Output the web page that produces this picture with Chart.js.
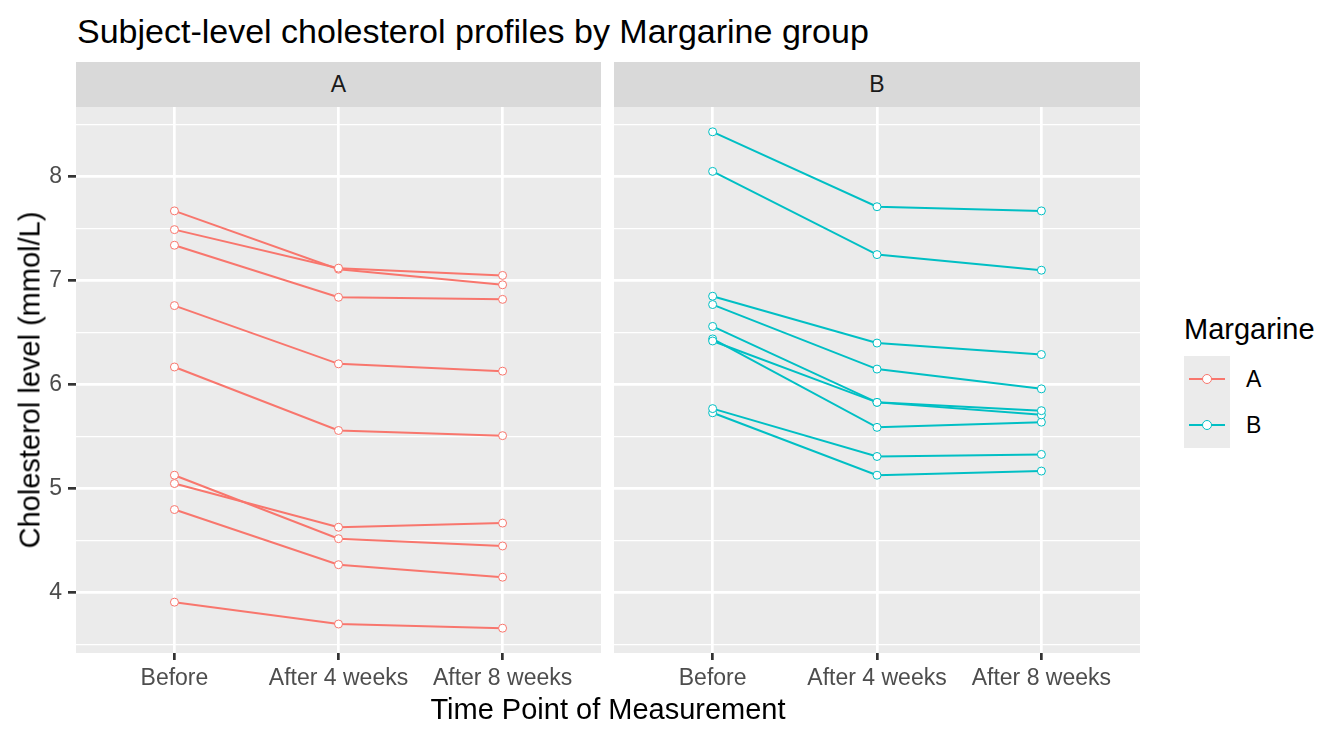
<!DOCTYPE html>
<html>
<head>
<meta charset="utf-8">
<script src="https://cdn.jsdelivr.net/npm/chart.js@4.4.1/dist/chart.umd.min.js"></script>
<style>
  body { margin: 0; background: #fff; font-family: 'Liberation Sans', Arial, sans-serif; }
  #wrap { position: relative; width: 1344px; height: 739px; overflow: hidden; }
  .abs { position: absolute; }
  .strip { background: #D9D9D9; color: #1A1A1A; font-size: 23px; display: flex; align-items: center; justify-content: center; }
  .keybox { background: #EBEBEB; width: 46px; height: 46px; }
  .keyline { position: absolute; left: 5px; right: 5px; top: 22px; height: 2px; }
  .keydot { position: absolute; left: 18px; top: 18px; width: 8px; height: 8px; border-radius: 50%; background: #fff; border: 1px solid; }
</style>
</head>
<body>
<div id="wrap">
  <div class="abs" style="left:77px;top:13px;font-size:34px;line-height:36px;color:#000;white-space:nowrap;">Subject-level cholesterol profiles by Margarine group</div>

  <div class="abs strip" style="left:76px;top:62px;width:525px;height:45px;">A</div>
  <div class="abs strip" style="left:614px;top:62px;width:526px;height:45px;">B</div>

  <canvas id="panelA" class="abs" style="left:0;top:107px;"></canvas>
  <canvas id="panelB" class="abs" style="left:614px;top:107px;"></canvas>

  <div class="abs" style="left:30px;top:380px;transform:translate(-50%,-50%) rotate(-90deg);font-size:29px;white-space:nowrap;color:#000;">Cholesterol level (mmol/L)</div>
  <div class="abs" style="left:608px;top:709px;transform:translate(-50%,-50%);font-size:29px;white-space:nowrap;color:#000;">Time Point of Measurement</div>

  <div class="abs" style="left:1184px;top:313px;font-size:29px;line-height:32px;color:#000;">Margarine</div>
  <div class="abs keybox" style="left:1184px;top:356px;">
    <div class="keyline" style="background:#F8766D;"></div>
    <div class="keydot" style="border-color:#F8766D;"></div>
  </div>
  <div class="abs keybox" style="left:1184px;top:402px;">
    <div class="keyline" style="background:#00BFC4;"></div>
    <div class="keydot" style="border-color:#00BFC4;"></div>
  </div>
  <div class="abs" style="left:1246px;top:366px;font-size:23px;line-height:26px;color:#000;">A</div>
  <div class="abs" style="left:1246px;top:412px;font-size:23px;line-height:26px;color:#000;">B</div>
</div>

<script>
const timePoints = ['Before', 'After 4 weeks', 'After 8 weeks'];

// one entry per subject, same order in each array
const beforeA = [6.76, 4.80, 7.49, 5.05, 3.91, 6.17, 7.67, 7.34, 5.13];
const after4A = [6.20, 4.27, 7.12, 4.63, 3.70, 5.56, 7.11, 6.84, 4.52];
const after8A = [6.13, 4.15, 7.05, 4.67, 3.66, 5.51, 6.96, 6.82, 4.45];

const beforeB = [6.42, 6.56, 8.43, 8.05, 5.77, 6.77, 6.44, 6.85, 5.73];
const after4B = [5.83, 5.83, 7.71, 7.25, 5.31, 6.15, 5.59, 6.40, 5.13];
const after8B = [5.75, 5.71, 7.67, 7.10, 5.33, 5.96, 5.64, 6.29, 5.17];

const yGrid = [3.5, 4, 4.5, 5, 5.5, 6, 6.5, 7, 7.5, 8, 8.5];

const colA = '#F8766D';
const colB = '#00BFC4';
const fontFamily = "'Liberation Sans', Arial, sans-serif";

function subjectSets(before, after4, after8, color) {
    return before.map((b, i) => ({
        data: [{x: 0, y: b}, {x: 1, y: after4[i]}, {x: 2, y: after8[i]}],
        borderColor: color,
        borderWidth: 2,
        pointRadius: 4,
        pointBackgroundColor: '#fff',
        pointBorderColor: color,
        pointBorderWidth: 1,
        tension: 0
    }));
}

const panelBg = {
    id: 'panelBg',
    beforeDraw(chart) {
        const a = chart.chartArea;
        const c = chart.ctx;
        c.save();
        c.fillStyle = '#EBEBEB';
        c.fillRect(a.left, a.top, a.right - a.left, a.bottom - a.top);
        c.restore();
    }
};

const isMajor = (ctx) => ctx.tick && Number.isInteger(ctx.tick.value);

// keep the chart area fixed: no label overflow padding
function noPad(s) {
    s.paddingTop = 0;
    s.paddingBottom = 0;
    s.paddingLeft = 0;
    s.paddingRight = 0;
}

function makePanel(id, width, datasets, showY) {
    const canvas = document.getElementById(id);
    canvas.width = width;
    canvas.height = 632;
    canvas.style.width = width + 'px';
    canvas.style.height = '632px';
    return new Chart(canvas.getContext('2d'), {
        type: 'line',
        data: { datasets },
        options: {
            responsive: false,
            animation: false,
            layout: { padding: 0, autoPadding: false },
            plugins: {
                legend: { display: false },
                tooltip: { enabled: false }
            },
            scales: {
                x: {
                    type: 'linear',
                    min: -0.6,
                    max: 2.6,
                    afterBuildTicks: (axis) => { axis.ticks = timePoints.map((t, i) => ({ value: i })); },
                    afterFit: (s) => { s.height = 86; noPad(s); },
                    border: { display: false },
                    grid: {
                        color: '#fff',
                        lineWidth: 2.7,
                        tickLength: 7,
                        tickColor: '#333333',
                        tickWidth: 2.7
                    },
                    ticks: {
                        color: '#4D4D4D',
                        font: { family: fontFamily, size: 23 },
                        padding: 5,
                        maxRotation: 0,
                        autoSkip: false,
                        callback: (v) => timePoints[v]
                    }
                },
                y: {
                    type: 'linear',
                    min: 3.4215,
                    max: 8.6685,
                    afterBuildTicks: (axis) => { axis.ticks = yGrid.map(v => ({ value: v })); },
                    afterFit: (s) => { s.width = showY ? 76 : 0; noPad(s); },
                    border: { display: false },
                    grid: {
                        color: '#fff',
                        lineWidth: (ctx) => isMajor(ctx) ? 2.7 : 1.3,
                        drawTicks: showY,
                        tickLength: showY ? 8 : 0,
                        tickColor: (ctx) => (showY && isMajor(ctx)) ? '#333333' : 'rgba(0,0,0,0)',
                        tickWidth: 2.7
                    },
                    ticks: {
                        display: showY,
                        color: '#4D4D4D',
                        font: { family: fontFamily, size: 23 },
                        padding: 6,
                        autoSkip: false,
                        callback: (v) => Number.isInteger(v) ? String(v) : ''
                    }
                }
            }
        },
        plugins: [panelBg]
    });
}

makePanel('panelA', 601, subjectSets(beforeA, after4A, after8A, colA), true);
makePanel('panelB', 526, subjectSets(beforeB, after4B, after8B, colB), false);
</script>
</body>
</html>
